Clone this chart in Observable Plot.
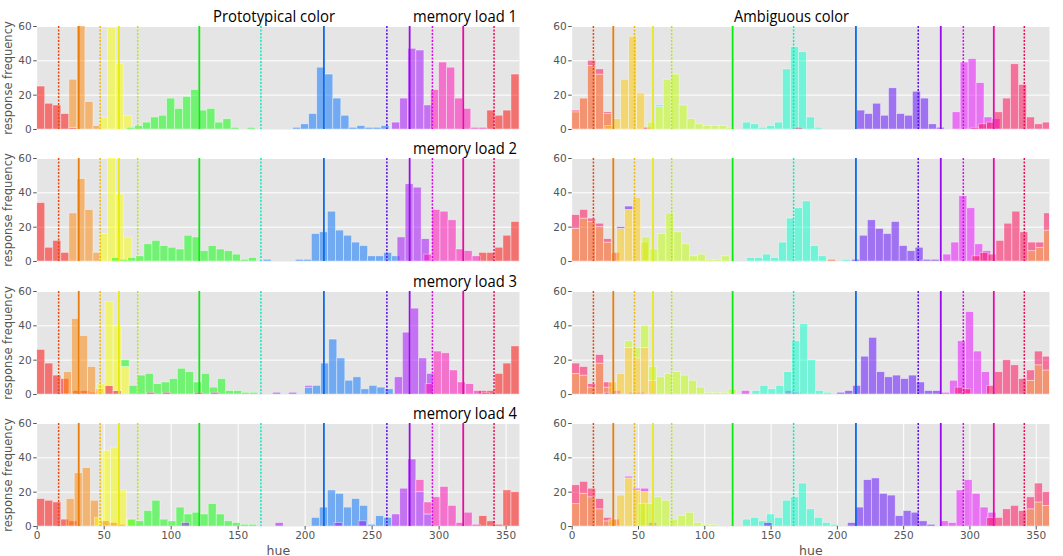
<!DOCTYPE html>
<html><head><meta charset="utf-8">
<script src="https://cdn.jsdelivr.net/npm/d3@7"></script>
<script src="https://cdn.jsdelivr.net/npm/@observablehq/plot@0.6"></script>
<style>
body{margin:0;background:#fff;}
#fig{position:relative;width:1063px;height:556px;overflow:hidden;}
#fig > svg{position:absolute;}
</style></head><body><div id="fig"></div>
<script>
// bin width in hue degrees
const BIN = 6;
const xTicks = [0, 50, 100, 150, 200, 250, 300, 350];
const yTicks = [0, 20, 40, 60];
// reference hues drawn as vertical lines
const prototypicalLines = [31, 61, 121, 214, 278, 318];   // solid
const ambiguousLines = [16, 47, 75, 167, 261, 295, 341];  // dotted
const columnTitles = ["Prototypical color", "Ambiguous color"];
const rowTitles = ["memory load 1", "memory load 2", "memory load 3", "memory load 4"];

// each series: [target hue, first bin start, counts per 6-degree bin]
const proto1 = [
  [0, 0, [25, 15, 14, 9, 1]],
  [0, 336, [11, 8, 11, 32]],
  [31, 24, [28, 65, 16, 2]],
  [61, 47, [7, 59, 38, 8]],
  [120, 67, [1, 2, 4, 7, 8, 18, 12, 19, 23, 11, 12, 4, 6, 1, 0, 1]],
  [214, 191, [1, 3, 9, 36, 32, 18, 8, 1, 2, 1, 1, 2]],
  [278, 265, [4, 18, 47, 46, 14]],
  [318, 294, [23, 39, 36, 18, 12, 1, 1]]
];
const proto2 = [
  [0, 0, [34, 8, 12, 5]],
  [0, 330, [5, 5, 8, 15, 23]],
  [31, 24, [28, 48, 30, 5]],
  [61, 47, [16, 65, 39, 14]],
  [120, 56, [2, 1, 2, 3, 10, 12, 9, 8, 7, 15, 14, 6, 9, 7, 6, 4, 1, 2]],
  [214, 169, [1]],
  [214, 193, [1, 1, 16, 17, 29, 18, 15, 11, 9, 3, 3, 5, 3]],
  [278, 269, [14, 45, 43, 13]],
  [318, 289, [4, 30, 29, 24, 7, 6, 3]]
];
const proto3 = [
  [0, 0, [26, 18, 11, 9]],
  [0, 27, [2, 2, 1, 0, 5, 2]],
  [0, 330, [2, 2, 12, 18, 28]],
  [31, 20, [13, 44, 34, 16, 3]],
  [61, 45, [6, 49, 38, 16]],
  [120, 63, [4, 5, 11, 12, 6, 7, 9, 15, 13, 7, 12, 4, 9, 2, 2, 1, 1]],
  [214, 200, [4, 5, 18, 32, 21, 8, 10, 3, 5, 4, 3]],
  [278, 267, [10, 36, 50, 21, 12]],
  [278, 176, [1, 0, 1, 0, 1]],
  [318, 290, [6, 25, 24, 14, 7, 6, 2, 1]],
  [318, 82, [1, 0, 1, 0, 0, 0, 1, 0, 1]]
];
const proto4 = [
  [0, 0, [16, 15, 14, 4, 3]],
  [0, 48, [3, 2, 1]],
  [0, 330, [6, 3, 1, 21, 20]],
  [31, 22, [16, 31, 34, 15]],
  [61, 43, [5, 44, 46, 21, 4]],
  [120, 68, [4, 3, 9, 15, 4, 3, 11, 7, 8, 7, 13, 7, 3, 2, 1, 1]],
  [214, 205, [5, 11, 21, 19, 11, 16, 12, 1, 6, 5]],
  [278, 108, [2]],
  [278, 178, [2]],
  [278, 222, [2, 0, 0, 3]],
  [278, 265, [7, 22, 39, 20, 7]],
  [318, 283, [7, 7, 17, 23, 12, 2, 8, 1]]
];
const amb1 = [
  [16, 0, [10, 18, 37, 32, 9]],
  [341, 0, [1, 0, 3, 3, 1]],
  [47, 25, [2, 6, 29, 54, 21]],
  [341, 54, [1]],
  [75, 57, [4, 13, 29, 32, 14, 6, 3, 2, 2, 2, 1]],
  [167, 63, [1]],
  [167, 129, [4, 3, 1, 2, 4, 35, 48, 45, 7, 1]],
  [341, 168, [1]],
  [261, 215, [11, 9, 15, 8, 24, 9, 8, 22, 18, 3, 1]],
  [295, 287, [10, 39, 41, 27, 7, 6]],
  [341, 301, [1, 3, 4, 10, 18, 38, 26, 7, 3, 4]]
];
const amb2 = [
  [16, 0, [19, 25, 23, 20, 11, 5]],
  [341, 0, [8, 5, 2, 2, 2]],
  [16, 344, [6, 8, 18]],
  [47, 34, [19, 30, 37, 11]],
  [261, 34, [1, 2]],
  [75, 53, [14, 7, 16, 28, 17, 10, 3, 4, 1, 1, 3]],
  [167, 132, [2, 2, 4, 2, 11, 25, 31, 35, 9, 3, 0, 0, 1]],
  [16, 193, [1]],
  [261, 211, [1]],
  [261, 217, [15, 24, 19, 16, 23, 9, 6, 8, 1, 1]],
  [295, 280, [4, 11, 38, 31, 10, 6]],
  [341, 302, [3, 5, 4, 12, 22, 29, 17, 5, 3, 10]]
];
const amb3 = [
  [16, 0, [12, 11, 4, 18, 4]],
  [341, 0, [6, 5, 2, 5, 3]],
  [16, 343, [8, 17, 14]],
  [295, 25, [1, 2, 0, 1, 1]],
  [47, 28, [7, 12, 27, 21, 27, 8]],
  [75, 40, [4, 6, 13, 8, 10, 12, 13, 11, 8, 4, 1, 1, 1, 3]],
  [295, 128, [2]],
  [295, 161, [2, 1]],
  [167, 136, [2, 5, 3, 5, 13, 31, 41, 20, 2, 1]],
  [261, 200, [1, 2, 5, 22, 33, 13, 10, 11, 9, 11, 7, 2, 2]],
  [295, 279, [1, 8, 31, 48, 25, 13]],
  [341, 289, [4, 3, 0, 0, 5, 13, 20, 17, 9, 6, 8, 8]]
];
const amb4 = [
  [16, 0, [13, 19, 17, 10, 3]],
  [341, 0, [11, 7, 5, 6, 2, 4]],
  [16, 343, [10, 14, 12]],
  [47, 28, [4, 18, 28, 21, 20]],
  [295, 40, [1, 1, 2, 2]],
  [75, 50, [13, 13, 17, 15, 4, 6, 8, 2, 1, 1]],
  [167, 129, [4, 5, 3, 7, 5, 15, 17, 25, 10, 5, 2, 1]],
  [261, 145, [2]],
  [261, 208, [2, 11, 27, 28, 19, 18, 6, 9, 8, 3, 1]],
  [295, 278, [3, 2, 21, 27, 19, 11, 8]],
  [341, 313, [5, 5, 10, 12, 9, 7, 11, 8]]
];

const panels = [[proto1, amb1], [proto2, amb2], [proto3, amb3], [proto4, amb4]];

const hueFill = h => d3.hsl(h, 1, 0.5).formatHex();
const hueLine = h => d3.hsl(h, 0.92, 0.48).formatHex();

function toBars(series) {
  return series.flatMap(([hue, start, counts]) =>
    counts.map((c, i) => ({hue, x1: start + i * BIN, x2: start + (i + 1) * BIN, count: c}))
  ).filter(d => d.count > 0);
}

const fig = d3.select("#fig");
const frameTops = [26, 158, 291, 423];
const FH = 103;

panels.forEach((row, r) => {
  row.forEach((series, c) => {
    const left = c === 0;
    const bottom = r === 3;
    const W = left ? 525 : 533;
    const ml = left ? 36.7 : 41.7;
    const mr = left ? 6 : 14;
    const mt = 6;
    const mb = bottom ? 30 : 6;
    const marks = [
      Plot.frame({fill: "#e5e5e5", stroke: "none"}),
      Plot.gridY([20, 40, 60], {stroke: "white", strokeOpacity: 1, strokeWidth: 1})
    ];
    if (bottom) marks.push(Plot.gridX(xTicks.slice(1), {stroke: "white", strokeOpacity: 1, strokeWidth: 1}));
    marks.push(
      Plot.rectY(toBars(series), {
        x1: "x1", x2: "x2", y: "count",
        fill: d => hueFill(d.hue), fillOpacity: 0.5,
        stroke: "white", strokeOpacity: 0.55, strokeWidth: 0.7,
        clip: true
      }),
      Plot.ruleX(prototypicalLines, {stroke: d => hueLine(d), strokeWidth: 1.8}),
      Plot.ruleX(ambiguousLines, {stroke: d => hueLine(d), strokeWidth: 1.5, strokeDasharray: "2,1.5"}),
      Plot.axisY({
        ticks: yTicks, tickSize: 3.5, tickPadding: 2, color: "#555",
        fontSize: 10.5, fontFamily: "DejaVu Sans",
        label: null
      })
    );
    if (left) marks.push(Plot.axisY({
      ticks: [], tickSize: 0, color: "#555",
      fontSize: 11.5, fontFamily: "DejaVu Sans",
      label: "response frequency", labelAnchor: "center", labelArrow: "none", labelOffset: 33
    }));
    if (bottom) {
      marks.push(Plot.axisX({
        ticks: xTicks, tickSize: 3.5, tickPadding: 2, color: "#555",
        fontSize: 10.5, fontFamily: "DejaVu Sans", label: null
      }));
      marks.push(Plot.axisX({
        ticks: [], tickSize: 0, color: "#555",
        fontSize: 12.5, fontFamily: "DejaVu Sans",
        label: "hue", labelAnchor: "center", labelArrow: "none", labelOffset: 28
      }));
    }
    const svg = Plot.plot({
      width: W, height: mt + FH + mb,
      marginTop: mt, marginBottom: mb, marginLeft: ml, marginRight: mr,
      x: {domain: [0, 360], axis: null},
      y: {domain: [0, 60], axis: null},
      style: {background: "transparent", fontFamily: "DejaVu Sans", fontSize: "10px", overflow: "visible"},
      marks
    });
    svg.style.left = (left ? 0 : 530) + "px";
    svg.style.top = (frameTops[r] - mt) + "px";
    fig.node().appendChild(svg);
  });
});

// titles
const overlay = fig.append("svg")
  .attr("width", 1063).attr("height", 556)
  .style("left", "0px").style("top", "0px")
  .style("pointer-events", "none")
  .style("font-family", "'Open Sans', sans-serif")
  .style("font-size", "16.5px");
overlay.append("text").attr("x", 274).attr("y", 21.5).attr("text-anchor", "middle")
  .attr("textLength", 122).attr("lengthAdjust", "spacingAndGlyphs").text(columnTitles[0]);
overlay.append("text").attr("x", 791.5).attr("y", 21.5).attr("text-anchor", "middle")
  .attr("textLength", 115).attr("lengthAdjust", "spacingAndGlyphs").text(columnTitles[1]);
rowTitles.forEach((t, r) => {
  overlay.append("text").attr("x", 517).attr("y", frameTops[r] - 4.5).attr("text-anchor", "end")
    .attr("textLength", 104).attr("lengthAdjust", "spacingAndGlyphs").text(t);
});
</script>
</body></html>
